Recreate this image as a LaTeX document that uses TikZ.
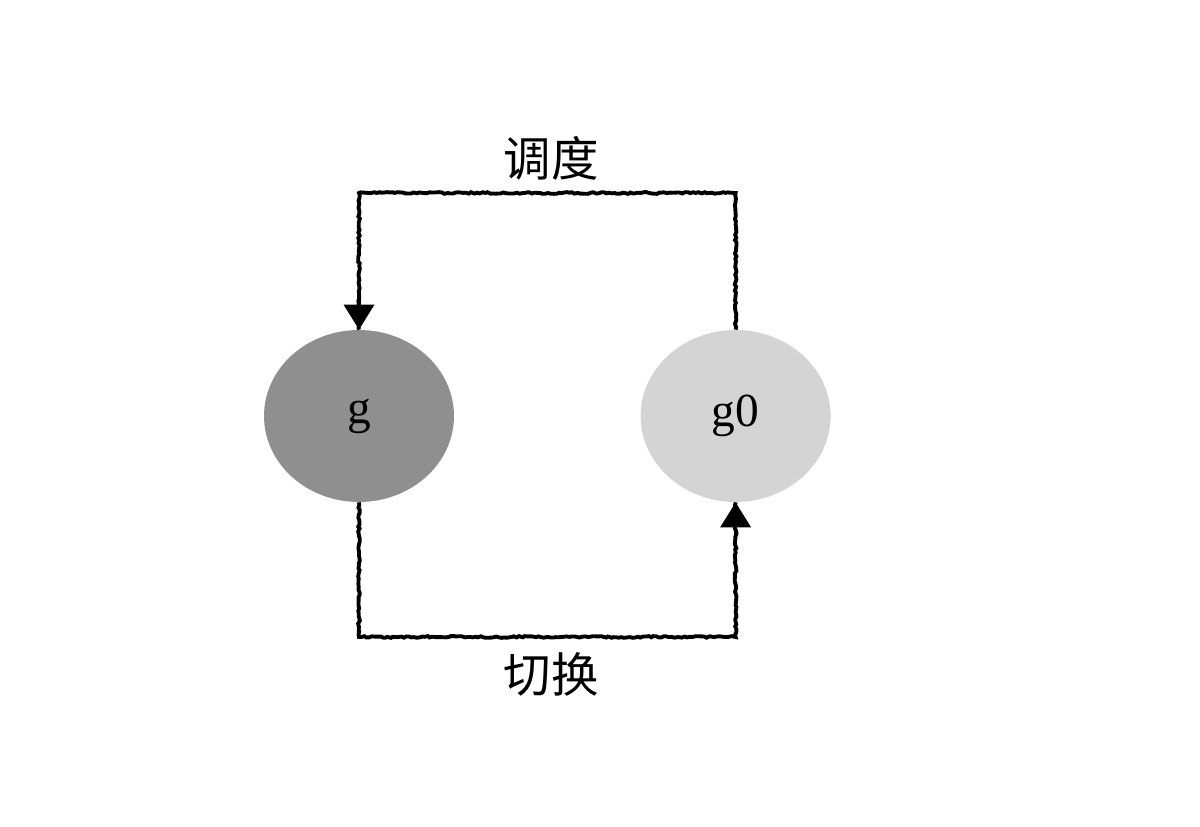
\documentclass[tikz,border=0pt]{standalone}
\usepackage{fontspec}
\setmainfont{Liberation Serif}
\newfontfamily\cjk{Noto Sans CJK SC}
\usetikzlibrary{shapes.geometric,arrows.meta,positioning,decorations.pathmorphing}

\tikzset{
  state/.style={ellipse,minimum width=3.8cm,minimum height=3.44cm,inner sep=0pt,font=\fontsize{27}{29}\selectfont},
  rough/.style={line width=2.2pt,decorate,decoration={random steps,segment length=1.5pt,amplitude=0.5pt}},
  tip/.style={line width=2pt,-{Triangle[length=0.5cm,width=0.6cm]}},
  label/.style={font=\cjk\fontsize{27}{30}\selectfont}
}

\begin{document}
\begin{tikzpicture}[x=0.02cm,y=-0.02cm]
  \useasboundingbox (0,0) rectangle (1200,827);
  \node(g)[state,fill=black!44] at (359,416) {g};
  \node(g0)[state,fill=black!17,right=3.72cm of g] {g0};
  \coordinate(top) at (548,193);
  \coordinate(bot) at (548,637);
  \node(sched)[label] at (551,158) {调度};
  \node(switch)[label] at (551,674) {切换};
  % dispatch: g0 back to g
  \draw[rough] (g0.north) |- (top) -| (g.north);
  \draw[tip] ([yshift=20pt]g.north) -- (g.north);
  % switch: g over to g0
  \draw[rough] (g.south) |- (bot) -| (g0.south);
  \draw[tip] ([yshift=-20pt]g0.south) -- (g0.south);
\end{tikzpicture}
\end{document}
